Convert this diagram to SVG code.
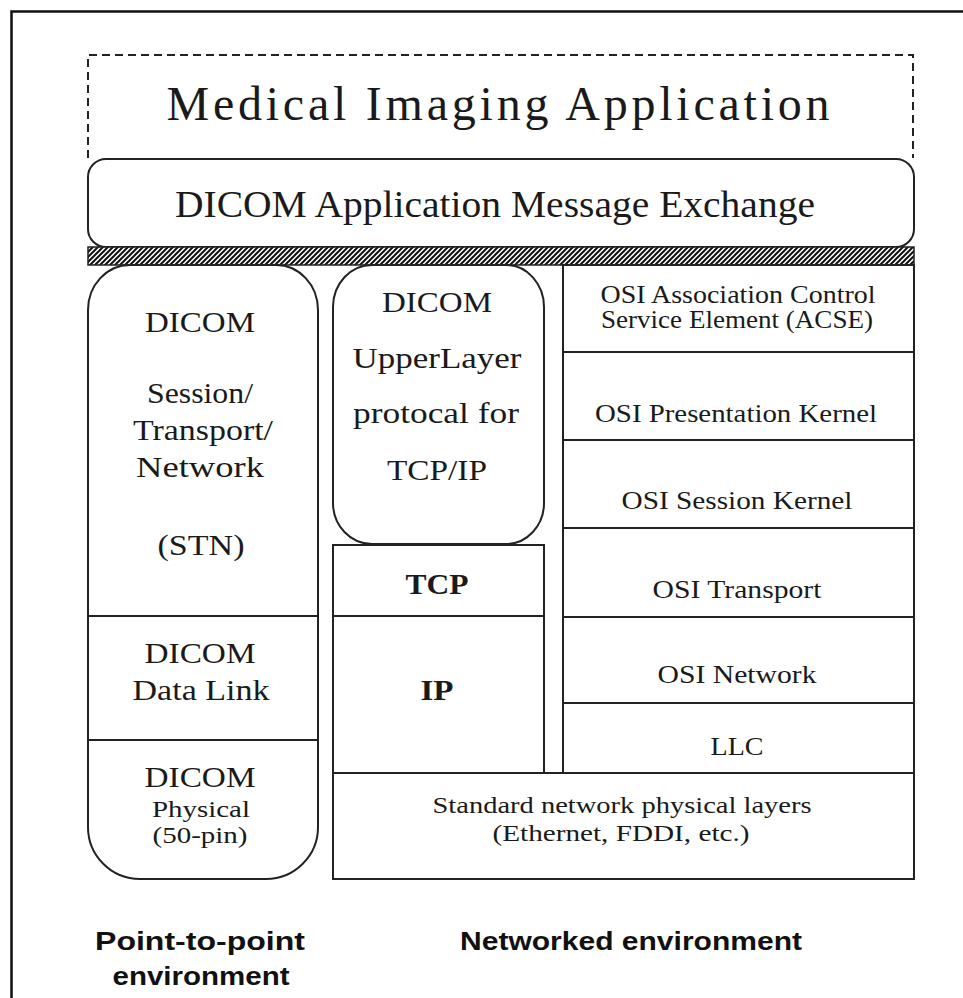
<svg xmlns="http://www.w3.org/2000/svg" width="963" height="998" viewBox="0 0 963 998">
  <defs>
    <!-- diagonal hatching for the interface band -->
    <pattern id="hatch" patternUnits="userSpaceOnUse" width="5" height="5">
      <rect width="5" height="5" fill="#fff"/>
      <path d="M-1,6 L6,-1 M-1,1 L1,-1 M4,6 L6,4" stroke="#111" stroke-width="2"/>
    </pattern>
    <style>
      .box { fill: #fff; stroke: #222; stroke-width: 2; }
      .line { stroke: #222; stroke-width: 2; fill: none; }
      .dash { stroke: #222; stroke-width: 2; fill: none; stroke-dasharray: 8 5; }
      .t { font-family: "Liberation Serif", "Times New Roman", serif; fill: #1a1a1a; text-anchor: middle; }
      .b { font-weight: bold; }
      .lbl { font-family: "Liberation Sans", Arial, sans-serif; font-weight: bold; fill: #111; text-anchor: middle; }
    </style>
  </defs>

  <rect width="963" height="998" fill="#fff"/>
  <!-- outer frame -->
  <rect x="11.5" y="11.5" width="1000" height="1000" fill="none" stroke="#111" stroke-width="2.5"/>

  <!-- application layer (dashed) -->
  <g id="app">
    <path class="dash" d="M88,158 V55 H913 V158"/>
    <text class="t" x="498" y="120" font-size="48" textLength="663">Medical Imaging Application</text>
  </g>

  <!-- message exchange -->
  <g id="msg">
    <rect class="box" x="88" y="159" width="826" height="88" rx="18" ry="18"/>
    <text class="t" x="495" y="217" font-size="37" textLength="640" lengthAdjust="spacingAndGlyphs">DICOM Application Message Exchange</text>
  </g>

  <!-- hatched boundary -->
  <g id="band">
    <rect x="88" y="247" width="826" height="18" fill="url(#hatch)" stroke="#222" stroke-width="1.5"/>
  </g>

  <!-- point-to-point stack -->
  <g id="stn">
    <path class="box" d="M130,265 H276 A42,45 0 0 1 318,310 V827 A52,52 0 0 1 266,879 H140 A52,52 0 0 1 88,827 V310 A42,45 0 0 1 130,265 Z"/>
    <line class="line" x1="88" y1="616" x2="318" y2="616"/>
    <line class="line" x1="88" y1="740" x2="318" y2="740"/>
    <text class="t" x="200" y="332" font-size="29" textLength="110" lengthAdjust="spacingAndGlyphs">DICOM</text>
    <text class="t" x="200" y="403" font-size="29" textLength="106" lengthAdjust="spacingAndGlyphs">Session/</text>
    <text class="t" x="203" y="440" font-size="29" textLength="140" lengthAdjust="spacingAndGlyphs">Transport/</text>
    <text class="t" x="200" y="477" font-size="29" textLength="128" lengthAdjust="spacingAndGlyphs">Network</text>
    <text class="t" x="201" y="555" font-size="29" textLength="87" lengthAdjust="spacingAndGlyphs">(STN)</text>
  </g>
  <g id="dlink">
    <text class="t" x="200" y="663" font-size="29" textLength="111" lengthAdjust="spacingAndGlyphs">DICOM</text>
    <text class="t" x="201" y="700" font-size="29" textLength="137" lengthAdjust="spacingAndGlyphs">Data Link</text>
  </g>
  <g id="phys">
    <text class="t" x="200" y="787" font-size="29" textLength="111" lengthAdjust="spacingAndGlyphs">DICOM</text>
    <text class="t" x="201" y="817" font-size="23" textLength="98" lengthAdjust="spacingAndGlyphs">Physical</text>
    <text class="t" x="200" y="843" font-size="23" textLength="95" lengthAdjust="spacingAndGlyphs">(50-pin)</text>
  </g>

  <!-- upper layer for TCP/IP -->
  <g id="ul">
    <path class="box" d="M372,265 H506 A38,42 0 0 1 544,307 V503 A38,41 0 0 1 506,544 H372 A39,41 0 0 1 333,503 V307 A39,42 0 0 1 372,265 Z"/>
    <text class="t" x="437" y="312" font-size="29" textLength="110" lengthAdjust="spacingAndGlyphs">DICOM</text>
    <text class="t" x="437" y="368" font-size="29" textLength="169" lengthAdjust="spacingAndGlyphs">UpperLayer</text>
    <text class="t" x="436" y="423" font-size="29" textLength="166" lengthAdjust="spacingAndGlyphs">protocal for</text>
    <text class="t" x="437" y="480" font-size="29" textLength="100" lengthAdjust="spacingAndGlyphs">TCP/IP</text>
  </g>
  <g id="tcp">
    <rect class="box" x="333" y="545" width="211" height="71"/>
    <text class="t b" x="437" y="594" font-size="29" textLength="63" lengthAdjust="spacingAndGlyphs">TCP</text>
  </g>
  <g id="ip">
    <rect class="box" x="333" y="616" width="211" height="157"/>
    <text class="t b" x="437" y="700" font-size="29" textLength="33" lengthAdjust="spacingAndGlyphs">IP</text>
  </g>

  <!-- OSI stack -->
  <g id="acse">
    <rect class="box" x="563" y="265" width="351" height="87"/>
    <text class="t" x="738" y="303" font-size="25" textLength="275" lengthAdjust="spacingAndGlyphs">OSI Association Control</text>
    <text class="t" x="737" y="328" font-size="25" textLength="272" lengthAdjust="spacingAndGlyphs">Service Element (ACSE)</text>
  </g>
  <g id="pres">
    <rect class="box" x="563" y="352" width="351" height="88"/>
    <text class="t" x="736" y="422" font-size="25" textLength="282" lengthAdjust="spacingAndGlyphs">OSI Presentation Kernel</text>
  </g>
  <g id="sess">
    <rect class="box" x="563" y="440" width="351" height="88"/>
    <text class="t" x="737" y="509" font-size="25" textLength="231" lengthAdjust="spacingAndGlyphs">OSI Session Kernel</text>
  </g>
  <g id="trans">
    <rect class="box" x="563" y="528" width="351" height="89"/>
    <text class="t" x="737" y="598" font-size="25" textLength="169" lengthAdjust="spacingAndGlyphs">OSI Transport</text>
  </g>
  <g id="net">
    <rect class="box" x="563" y="617" width="351" height="86"/>
    <text class="t" x="737" y="683" font-size="25" textLength="159" lengthAdjust="spacingAndGlyphs">OSI Network</text>
  </g>
  <g id="llc">
    <rect class="box" x="563" y="703" width="351" height="70"/>
    <text class="t" x="737" y="755" font-size="25" textLength="53" lengthAdjust="spacingAndGlyphs">LLC</text>
  </g>

  <!-- physical networks -->
  <g id="physnet">
    <rect class="box" x="333" y="773" width="581" height="106"/>
    <text class="t" x="622" y="813" font-size="24" textLength="379" lengthAdjust="spacingAndGlyphs">Standard network physical layers</text>
    <text class="t" x="621" y="841" font-size="24" textLength="257" lengthAdjust="spacingAndGlyphs">(Ethernet, FDDI, etc.)</text>
  </g>

  <!-- environment captions -->
  <g id="captions">
    <text class="lbl" x="200" y="950" font-size="26" textLength="210" lengthAdjust="spacingAndGlyphs">Point-to-point</text>
    <text class="lbl" x="201" y="985" font-size="26" textLength="177" lengthAdjust="spacingAndGlyphs">environment</text>
    <text class="lbl" x="631" y="950" font-size="26" textLength="342" lengthAdjust="spacingAndGlyphs">Networked environment</text>
  </g>
</svg>
